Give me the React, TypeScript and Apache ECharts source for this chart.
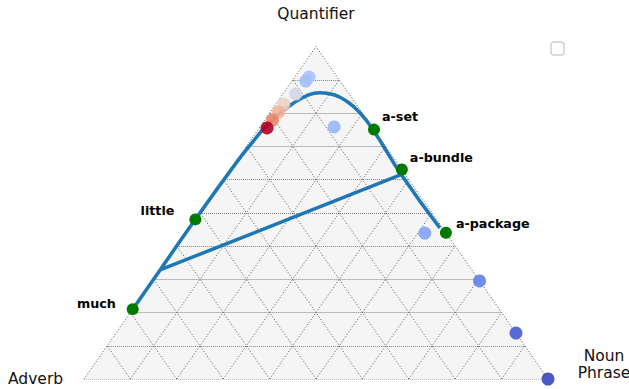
import React, { useEffect, useRef } from 'react';
import * as echarts from 'echarts';

// Ternary components: [Quantifier (top), Adverb (bottom-left), Noun Phrase (bottom-right)]
const axisNames = ['Quantifier', 'Adverb', 'Noun\nPhrase'];
const gridTicks = [0, 0.1, 0.2, 0.3, 0.4, 0.5, 0.6, 0.7, 0.8, 0.9];

// Named anchor words (green)
const anchorNames = ['much', 'little', 'a-set', 'a-bundle', 'a-package'];
const anchorQuantifier = [0.21, 0.48, 0.75, 0.63, 0.44];
const anchorAdverb = [0.79, 0.52, 0.0, 0.0, 0.0];
const anchorNounPhrase = [0.0, 0.0, 0.25, 0.37, 0.56];

// Trajectory points (coloured by score)
const pointQuantifier = [0.908, 0.896, 0.857, 0.827, 0.803, 0.779, 0.755, 0.758, 0.439, 0.295, 0.138, 0.0];
const pointAdverb = [0.061, 0.074, 0.115, 0.156, 0.179, 0.204, 0.228, 0.082, 0.046, 0.0, 0.0, 0.0];
const pointNounPhrase = [0.031, 0.03, 0.028, 0.017, 0.018, 0.017, 0.017, 0.16, 0.515, 0.705, 0.862, 1.0];
const pointScore = [0.33, 0.31, 0.46, 0.57, 0.68, 0.79, 1.0, 0.28, 0.22, 0.13, 0.05, 0.0];

// Fitted curve
const curveQuantifier = [0.21, 0.328, 0.481, 0.65, 0.71, 0.755, 0.791, 0.827, 0.851, 0.861, 0.855, 0.833, 0.8, 0.755, 0.611, 0.454];
const curveNounPhrase = [0.0, 0.0, 0.0, 0.003, 0.007, 0.011, 0.02, 0.035, 0.053, 0.078, 0.111, 0.152, 0.195, 0.243, 0.38, 0.54];

// Chord
const chordQuantifier = [0.328, 0.616];
const chordNounPhrase = [0.0, 0.378];

const coolwarm = ['#3b4cc0', '#6788ee', '#9abbff', '#c9d7f0', '#edd1c2', '#f7a889', '#e26952', '#b40426'];

const toXY = (q: number, a: number, n: number): [number, number] => {
  const s = q + a + n || 1;
  return [n / s + q / s / 2, q / s];
};

const labelPlacement: Record<string, any> = {
  much: { position: 'left', distance: 5, offset: [-6, -6] },
  little: { position: 'left', distance: 5, offset: [-10, -9] },
  'a-set': { position: 'right', distance: 5, offset: [-3, -13] },
  'a-bundle': { position: 'right', distance: 5, offset: [-3, -12] },
  'a-package': { position: 'right', distance: 5, offset: [-1, -9] },
};

export default function App() {
  const ref = useRef<HTMLDivElement>(null);
  useEffect(() => {
    document.body.style.margin = '0';
    if (!ref.current) return;
    const chart = echarts.init(ref.current, undefined, { renderer: 'svg' });
    const font = 'DejaVu Sans';
    const lineStyleH = { color: '#808080', width: 1, type: [1, 1] as any, opacity: 1 };
    const lineStyleD = { color: '#444', width: 0.9, type: [1, 2] as any, opacity: 1 };

    const option: any = {
      animation: false,
      textStyle: { fontFamily: font },
      grid: { left: 84, top: 46.5, width: 464, height: 332.5 },
      xAxis: { type: 'value', min: 0, max: 1, show: false },
      yAxis: { type: 'value', min: 0, max: 1, show: false },
      visualMap: {
        type: 'continuous',
        show: false,
        min: 0,
        max: 1,
        dimension: 2,
        seriesIndex: 6,
        inRange: { color: coolwarm },
      },
      graphic: [
        { type: 'text', style: { text: axisNames[0], x: 316, y: 14, align: 'center', verticalAlign: 'middle', fontSize: 15.5, fontFamily: font, fill: '#111' } },
        { type: 'text', style: { text: axisNames[1], x: 8, y: 379, align: 'left', verticalAlign: 'middle', fontSize: 15.5, fontFamily: font, fill: '#111' } },
        { type: 'text', style: { text: axisNames[2], x: 604, y: 364, align: 'center', verticalAlign: 'middle', lineHeight: 17, fontSize: 15.5, fontFamily: font, fill: '#111' } },
        { type: 'rect', shape: { x: 551, y: 42, width: 13, height: 13, r: 3 }, style: { fill: '#fff', stroke: '#d0d0d0', lineWidth: 1.5 } },
      ],
      series: [
        {
          type: 'custom',
          silent: true,
          z: 0,
          clip: false,
          data: [[0, 0]],
          renderItem: (_p: any, api: any) => ({
            type: 'polygon',
            shape: { points: [api.coord(toXY(1, 0, 0)), api.coord(toXY(0, 1, 0)), api.coord(toXY(0, 0, 1))] },
            style: { fill: '#f5f5f5' },
          }),
        },
        {
          type: 'lines',
          coordinateSystem: 'cartesian2d',
          silent: true,
          z: 1,
          lineStyle: lineStyleH,
          data: gridTicks.map((t) => ({ coords: [toXY(t, 1 - t, 0), toXY(t, 0, 1 - t)] })),
        },
        {
          type: 'lines',
          coordinateSystem: 'cartesian2d',
          silent: true,
          z: 1,
          lineStyle: lineStyleD,
          data: gridTicks.map((t) => ({ coords: [toXY(0, 1 - t, t), toXY(1 - t, 0, t)] })),
        },
        {
          type: 'lines',
          coordinateSystem: 'cartesian2d',
          silent: true,
          z: 1,
          lineStyle: lineStyleD,
          data: gridTicks.map((t) => ({ coords: [toXY(0, t, 1 - t), toXY(1 - t, t, 0)] })),
        },
        {
          type: 'line',
          z: 3,
          clip: false,
          smooth: 0.5,
          showSymbol: false,
          symbol: 'none',
          lineStyle: { color: '#1f77b4', width: 3.5 },
          data: curveQuantifier.map((q, i) => toXY(q, 1 - q - curveNounPhrase[i], curveNounPhrase[i])),
        },
        {
          type: 'line',
          z: 3,
          clip: false,
          showSymbol: false,
          symbol: 'none',
          lineStyle: { color: '#1f77b4', width: 3.5 },
          data: chordQuantifier.map((q, i) => toXY(q, 1 - q - chordNounPhrase[i], chordNounPhrase[i])),
        },
        {
          type: 'scatter',
          z: 4,
          clip: false,
          symbolSize: 13,
          itemStyle: { opacity: 0.92 },
          data: pointQuantifier.map((q, i) => [...toXY(q, pointAdverb[i], pointNounPhrase[i]), pointScore[i]]),
        },
        {
          type: 'scatter',
          z: 5,
          clip: false,
          symbolSize: 12,
          itemStyle: { color: '#007a00', opacity: 1 },
          label: { show: true, fontSize: 12.7, fontWeight: 'bold', fontFamily: font, color: '#000', formatter: (p: any) => p.name },
          data: anchorNames.map((name, i) => ({
            name,
            value: toXY(anchorQuantifier[i], anchorAdverb[i], anchorNounPhrase[i]),
            label: labelPlacement[name],
          })),
        },
      ],
    };
    chart.setOption(option);
    return () => chart.dispose();
  }, []);
  return <div ref={ref} style={{ width: 629, height: 389 }} />;
}
